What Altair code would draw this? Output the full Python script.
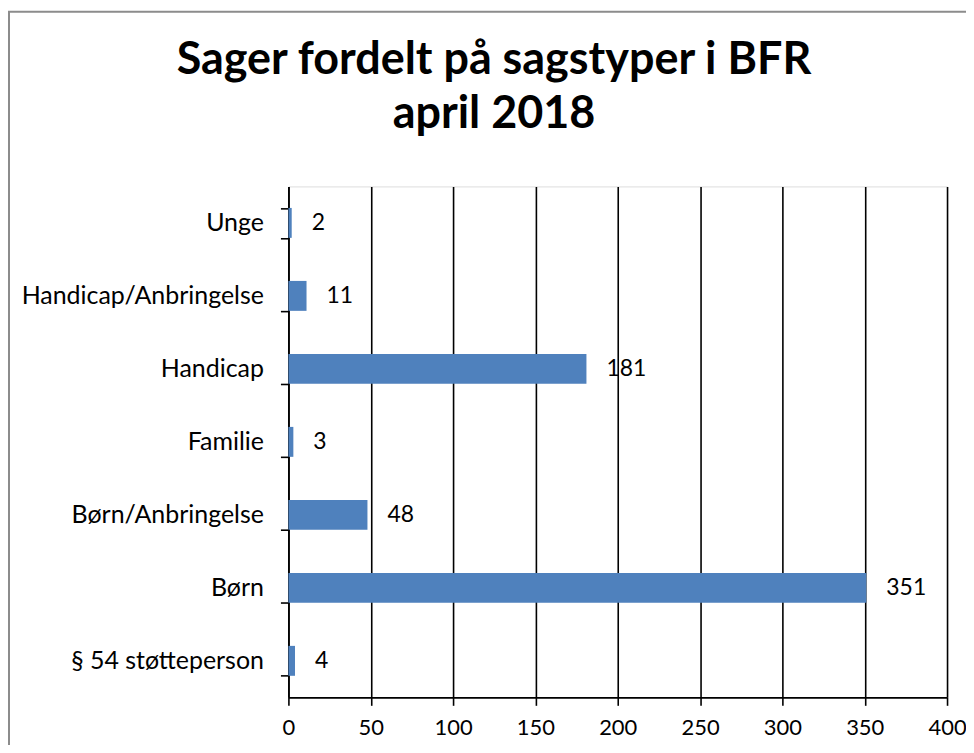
import altair as alt
import pandas as pd

categories = ["Unge", "Handicap/Anbringelse", "Handicap", "Familie",
              "Børn/Anbringelse", "Børn", "§ 54 støtteperson"]
values = [2, 11, 181, 3, 48, 351, 4]
x_ticks = [0, 50, 100, 150, 200, 250, 300, 350, 400]
title_line1 = "Sager fordelt på sagstyper i BFR"
title_line2 = "april 2018"

df = pd.DataFrame({"cat": categories, "val": values})
FONT = "Lato"

base = alt.Chart(df)

bars = base.mark_bar(color="#4F81BD").encode(
    x=alt.X("val:Q", scale=alt.Scale(domain=[0, 400], nice=False),
            axis=alt.Axis(values=x_ticks, grid=True, gridColor="black", gridWidth=1.6,
                          domainColor="black", domainWidth=1.6, tickColor="black",
                          tickWidth=1.6, tickSize=8, labelFontSize=22, labelPadding=12,
                          labelColor="black", labelFont=FONT, labelFlush=False,
                          labelOverlap=False, title=None)),
    y=alt.Y("cat:N", sort=categories,
            scale=alt.Scale(paddingInner=0.59, paddingOuter=0.295),
            axis=alt.Axis(domainColor="black", domainWidth=1.6, tickColor="black",
                          tickWidth=1.6, tickSize=8, tickBand="extent",
                          labelFontSize=25, labelPadding=17, labelColor="black",
                          labelFont=FONT, labelLimit=0, title=None, grid=False)),
)

labels = base.mark_text(align="left", baseline="middle", dx=20, fontSize=23,
                        font=FONT, color="black").encode(
    x=alt.X("val:Q"),
    y=alt.Y("cat:N", sort=categories),
    text=alt.Text("val:Q"),
)

one = pd.DataFrame({"a": [0]})

border = alt.Chart(one).mark_rect(
    fill=None, stroke="#8c8c8c", strokeWidth=2
).encode(
    x=alt.value(-280), x2=alt.value(760), y=alt.value(-175), y2=alt.value(700)
)

t1 = alt.Chart(one).mark_text(
    text=title_line1, fontSize=45, font=FONT, fontWeight="bold", color="black",
    align="center", baseline="middle"
).encode(x=alt.value(206), y=alt.value(-127))

t2 = alt.Chart(one).mark_text(
    text=title_line2, fontSize=45, font=FONT, fontWeight="bold", color="black",
    align="center", baseline="middle"
).encode(x=alt.value(206), y=alt.value(-73))

chart = alt.layer(border, bars, labels, t1, t2).properties(
    width=660, height=512,
    autosize=alt.AutoSizeParams(type="none"),
    padding={"left": 281, "top": 178, "right": 19, "bottom": 47},
).configure_view(stroke=None).configure(background="white")

chart.save("out.html", embed_options={"renderer": "svg", "actions": False})
